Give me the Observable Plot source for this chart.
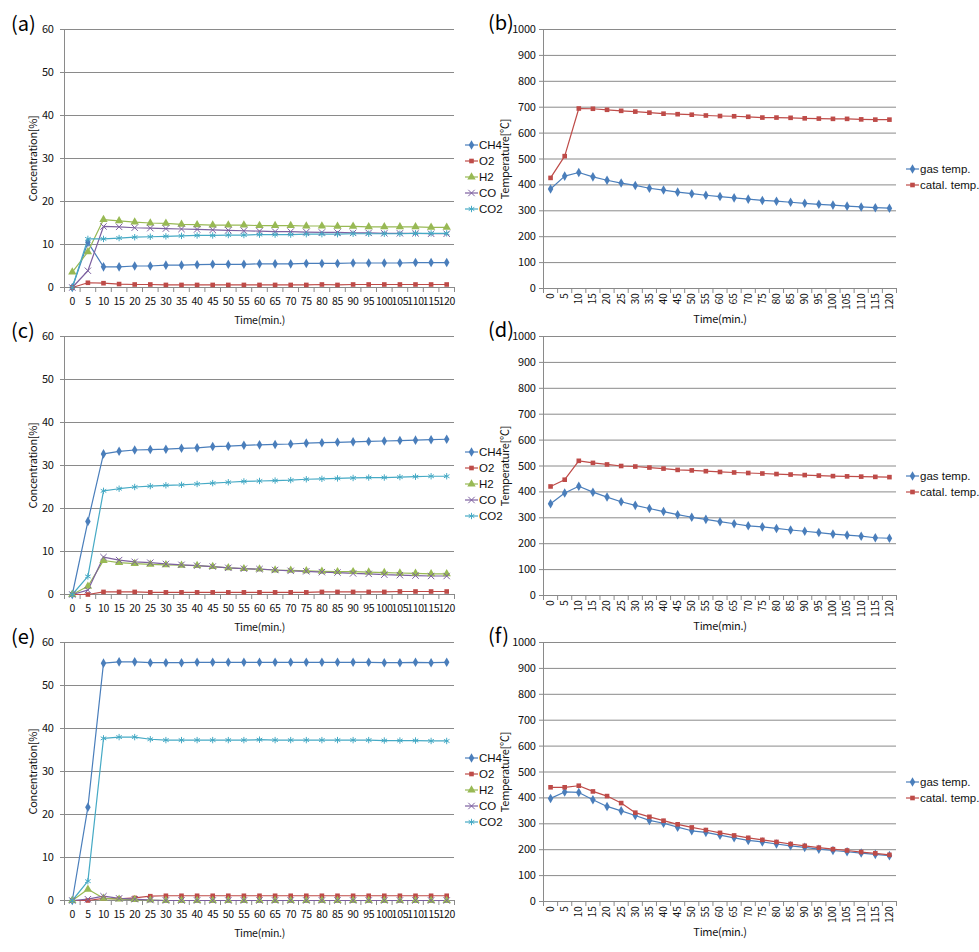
<!DOCTYPE html>
<html><head><meta charset="utf-8">
<script src="https://cdn.jsdelivr.net/npm/d3@7"></script>
<script src="https://cdn.jsdelivr.net/npm/@observablehq/plot@0.6"></script>
<style>
body{margin:0;background:#fff;font-family:"Noto Sans CJK KR","Noto Sans",sans-serif;}
#wrap{position:relative;width:979px;height:952px;overflow:hidden;background:#fff;}
.panel{position:absolute;}
.panel svg{overflow:visible;background:none;}
.plab{position:absolute;font-size:20px;line-height:20px;color:#000;}
.leg{position:absolute;font-size:11.5px;color:#111;font-family:"Liberation Sans",Arial,sans-serif;}
.leg .row{height:16px;display:flex;align-items:center;white-space:nowrap;}
.leg svg{margin-right:1px;}
</style></head><body><div id="wrap"></div>
<script>
// ---------- data ----------
const times = [0,5,10,15,20,25,30,35,40,45,50,55,60,65,70,75,80,85,90,95,100,105,110,115,120];
const timeLabels = ["0","5","10","15","20","25","30","35","40","45","50","55","60","65","70","75","80","85","90","95","100","105","110","115","120"];
const concTicks = [0,10,20,30,40,50,60];
const concTickLabels = ["0","10","20","30","40","50","60"];
const tempTicks = [0,100,200,300,400,500,600,700,800,900,1000];
const tempTickLabels = ["0","100","200","300","400","500","600","700","800","900","1000"];

const species = ["CH4","O2","H2","CO","CO2"];
const speciesColors = ["#4A7EBB","#BE4B48","#98B954","#7D60A0","#46AAC5"];
const speciesSymbols = ["diamond","square","triangle","times","asterisk"];

const temps = ["gas temp.","catal. temp."];
const tempColors = ["#4A7EBB","#BE4B48"];
const tempSymbols = ["diamond","square"];

// (a)
const aCH4 = [0,10.5,4.8,4.8,5.0,5.0,5.2,5.2,5.3,5.4,5.4,5.4,5.5,5.5,5.5,5.6,5.6,5.6,5.7,5.7,5.7,5.7,5.8,5.8,5.8];
const aO2  = [0,1.1,1.0,0.8,0.7,0.7,0.6,0.6,0.6,0.6,0.6,0.6,0.6,0.6,0.6,0.6,0.7,0.6,0.7,0.7,0.7,0.7,0.7,0.7,0.7];
const aH2  = [3.6,8.3,15.8,15.5,15.2,15.0,14.9,14.7,14.6,14.5,14.5,14.5,14.4,14.4,14.4,14.3,14.3,14.2,14.2,14.1,14.1,14.1,14.1,14.0,14.0];
const aCO  = [0,3.9,14.2,14.1,13.9,13.8,13.7,13.6,13.5,13.4,13.3,13.2,13.1,13.0,13.0,12.9,12.8,12.8,12.7,12.7,12.6,12.6,12.6,12.5,12.5];
const aCO2 = [0,11.3,11.3,11.5,11.7,11.8,11.9,12.0,12.1,12.1,12.2,12.2,12.3,12.3,12.3,12.4,12.4,12.4,12.5,12.5,12.5,12.5,12.6,12.6,12.6];
// (c)
const cCH4 = [0,17.0,32.7,33.3,33.6,33.7,33.8,34.0,34.1,34.4,34.5,34.7,34.8,34.9,35.0,35.2,35.3,35.4,35.5,35.6,35.7,35.8,35.9,36.0,36.1];
const cO2  = [0,0,0.6,0.6,0.6,0.5,0.5,0.5,0.5,0.5,0.5,0.5,0.5,0.5,0.5,0.5,0.6,0.6,0.6,0.6,0.6,0.7,0.7,0.7,0.7];
const cH2  = [0,1.9,7.9,7.4,7.2,7.0,6.9,6.8,6.7,6.5,6.2,6.0,5.9,5.7,5.6,5.5,5.4,5.3,5.3,5.2,5.1,5.0,4.9,4.8,4.8];
const cCO  = [0,1.0,8.7,8.0,7.6,7.4,7.1,6.9,6.7,6.5,6.2,6.0,5.9,5.7,5.5,5.4,5.2,5.1,4.9,4.8,4.6,4.5,4.4,4.3,4.3];
const cCO2 = [0,4.2,24.1,24.6,25.0,25.2,25.4,25.5,25.7,25.9,26.1,26.3,26.4,26.5,26.6,26.8,26.9,27.0,27.1,27.2,27.2,27.3,27.4,27.5,27.5];
// (e)
const eCH4 = [0,21.7,55.2,55.5,55.5,55.3,55.3,55.3,55.4,55.4,55.4,55.4,55.4,55.4,55.4,55.4,55.4,55.4,55.4,55.4,55.3,55.3,55.4,55.3,55.4];
const eO2  = [0,0,0.5,0.4,0.6,1.0,1.1,1.1,1.1,1.1,1.1,1.1,1.1,1.1,1.1,1.1,1.1,1.1,1.1,1.1,1.1,1.1,1.1,1.1,1.1];
const eH2  = [0,2.6,0.5,0.3,0.2,0.1,0,0,0,0,0,0,0,0,0,0,0,0,0,0,0,0,0,0,0];
const eCO  = [0,0.3,1.0,0.5,0.3,0.1,0,0,0,0,0,0,0,0,0,0,0,0,0,0,0,0,0,0,0];
const eCO2 = [0,4.5,37.7,38.0,38.0,37.5,37.3,37.3,37.3,37.3,37.3,37.3,37.4,37.3,37.3,37.3,37.3,37.3,37.3,37.3,37.2,37.2,37.2,37.1,37.1];
// (b)
const bGas   = [384,434,448,431,418,407,398,387,380,372,366,360,355,350,345,340,337,333,329,325,322,318,315,312,310];
const bCatal = [427,511,695,694,690,686,683,679,675,673,671,668,666,665,663,660,660,659,657,656,655,655,653,652,652];
// (d)
const dGas   = [354,396,422,399,380,362,348,336,324,312,302,294,285,277,269,265,259,253,248,243,237,233,229,223,221];
const dCatal = [421,447,520,512,506,500,498,494,490,485,483,480,477,475,473,471,469,467,465,463,461,460,459,458,457];
// (f)
const fGas   = [398,423,421,393,367,350,332,313,302,287,273,267,256,246,236,230,222,215,209,202,197,192,187,182,177];
const fCatal = [441,441,447,425,407,380,343,327,312,298,286,276,265,255,246,238,230,222,215,208,202,197,191,186,180];

// ---------- helpers ----------
const FONT = '"Noto Sans CJK KR","Noto Sans",sans-serif';
const GRID = "#8a8a8a";
const step = times[1] - times[0];
const xDomain = [times[0] - step/2, times[times.length-1] + step/2];
const bounds = times.map(t => t - step/2).concat([times[times.length-1] + step/2]);
const rowTops = [0, 307, 613];
const wrap = document.getElementById("wrap");
const symR = {diamond: 2.9, square: 2.6, triangle: 3.1, times: 3, asterisk: 3};

function tidy(names, arrays) {
  const out = [];
  names.forEach((n, k) => arrays[k].forEach((v, i) => out.push({t: times[i], v, s: n})));
  return out;
}
function seriesMarks(data, names, symbols) {
  const marks = [Plot.line(data, {x: "t", y: "v", z: "s", stroke: "s", strokeWidth: 1.2})];
  names.forEach((n, k) => {
    const sym = symbols[k];
    const hollow = sym === "times" || sym === "asterisk";
    const d = data.filter(p => p.s === n);
    marks.push(Plot.dot(d, hollow
      ? {x: "t", y: "v", symbol: () => sym, stroke: "s", fill: "none", r: symR[sym], strokeWidth: 1}
      : {x: "t", y: "v", symbol: () => sym, fill: "s", stroke: "none", r: symR[sym]}));
  });
  return marks;
}
function addPanel(node, left, top, w) {
  const div = document.createElement("div");
  div.className = "panel";
  div.style.left = left + "px"; div.style.top = top + "px"; div.style.width = w + "px";
  div.appendChild(node);
  wrap.appendChild(div);
}
function addText(cls, txt, left, top) {
  const d = document.createElement("div");
  d.className = cls; d.textContent = txt;
  d.style.left = left + "px"; d.style.top = top + "px";
  wrap.appendChild(d);
}
function addLegend(left, top, names, colors, symbols) {
  const leg = document.createElement("div");
  leg.className = "leg"; leg.style.left = left + "px"; leg.style.top = top + "px";
  names.forEach((n, k) => {
    const row = document.createElement("div"); row.className = "row";
    const svg = d3.create("svg").attr("width", 13).attr("height", 10);
    svg.append("line").attr("x1", 0).attr("x2", 13).attr("y1", 5).attr("y2", 5)
      .attr("stroke", colors[k]).attr("stroke-width", 1.2);
    const sym = symbols[k];
    const hollow = sym === "times" || sym === "asterisk";
    const type = {diamond: d3.symbolDiamond, square: d3.symbolSquare, triangle: d3.symbolTriangle, times: d3.symbolTimes, asterisk: d3.symbolAsterisk}[sym];
    const r = symR[sym];
    svg.append("path").attr("transform", "translate(6.5,5)")
      .attr("d", d3.symbol(type, Math.PI * r * r)())
      .attr("fill", hollow ? "none" : colors[k]).attr("stroke", hollow ? colors[k] : "none");
    row.appendChild(svg.node());
    const sp = document.createElement("span"); sp.textContent = n;
    row.appendChild(sp);
    leg.appendChild(row);
  });
  wrap.appendChild(leg);
}

function concPlot(arrays) {
  const data = tidy(species, arrays);
  return Plot.plot({
    width: 490, height: 330, marginLeft: 64, marginRight: 36, marginTop: 29, marginBottom: 43,
    style: {fontFamily: FONT, fontSize: "11px", letterSpacing: "-0.3px", color: "#111", background: "none", overflow: "visible"},
    x: {type: "linear", domain: xDomain},
    y: {domain: [concTicks[0], concTicks[concTicks.length-1]]},
    color: {domain: species, range: speciesColors},
    marks: [
      Plot.gridY(concTicks, {stroke: GRID, strokeOpacity: 1}),
      Plot.ruleX([xDomain[0]], {stroke: GRID}),
      Plot.ruleY([0], {stroke: GRID}),
      Plot.axisY(concTicks, {tickSize: 4, tickPadding: 7, stroke: GRID, tickFormat: d => concTickLabels[concTicks.indexOf(d)], label: "Concentration[%]", labelAnchor: "center", labelArrow: "none", labelOffset: 35}),
      Plot.axisX(bounds, {tickSize: 5, stroke: GRID, tickFormat: () => "", label: null}),
      Plot.axisX(times, {tickSize: 0, tickPadding: 10, fontSize: 10.5, tickFormat: d => timeLabels[times.indexOf(d)], label: "Time(min.)", labelAnchor: "center", labelArrow: "none", labelOffset: 36}),
      ...seriesMarks(data, species, speciesSymbols)
    ]
  });
}
function tempPlot(arrays) {
  const data = tidy(temps, arrays);
  return Plot.plot({
    width: 489, height: 330, marginLeft: 53, marginRight: 83, marginTop: 29, marginBottom: 42,
    style: {fontFamily: FONT, fontSize: "11px", letterSpacing: "-0.3px", color: "#111", background: "none", overflow: "visible"},
    x: {type: "linear", domain: xDomain},
    y: {domain: [tempTicks[0], tempTicks[tempTicks.length-1]]},
    color: {domain: temps, range: tempColors},
    marks: [
      Plot.gridY(tempTicks, {stroke: GRID, strokeOpacity: 1}),
      Plot.ruleX([xDomain[0]], {stroke: GRID}),
      Plot.ruleY([0], {stroke: GRID}),
      Plot.axisY(tempTicks, {tickSize: 4, tickPadding: 4, stroke: GRID, tickFormat: d => tempTickLabels[tempTicks.indexOf(d)], label: "Temperature[℃]", labelAnchor: "center", labelArrow: "none", labelOffset: 42}),
      Plot.axisX(bounds, {tickSize: 5, stroke: GRID, tickFormat: () => "", label: null}),
      Plot.text(times, {x: d => d, text: (d, i) => timeLabels[i], frameAnchor: "bottom", rotate: -90, textAnchor: "end", lineAnchor: "middle", dy: 5, fontSize: 10.5, fill: "#111"}),
      Plot.axisX(times, {tickSize: 0, tickFormat: () => "", label: "Time(min.)", labelAnchor: "center", labelArrow: "none", labelOffset: 34}),
      ...seriesMarks(data, temps, tempSymbols)
    ]
  });
}

const concSets = [[aCH4,aO2,aH2,aCO,aCO2],[cCH4,cO2,cH2,cCO,cCO2],[eCH4,eO2,eH2,eCO,eCO2]];
const tempSets = [[bGas,bCatal],[dGas,dCatal],[fGas,fCatal]];
const leftLabels = ["(a)","(c)","(e)"];
const rightLabels = ["(b)","(d)","(f)"];

rowTops.forEach((top, r) => {
  addPanel(concPlot(concSets[r]), 0, top, 490);
  addPanel(tempPlot(tempSets[r]), 490, top, 489);
  addLegend(465, top + 137, species, speciesColors, speciesSymbols);
  addLegend(906, top + 161, temps, tempColors, tempSymbols);
  addText("plab", leftLabels[r], 11, top + 13);
  addText("plab", rightLabels[r], 488, top + 12);
});
</script></body></html>
